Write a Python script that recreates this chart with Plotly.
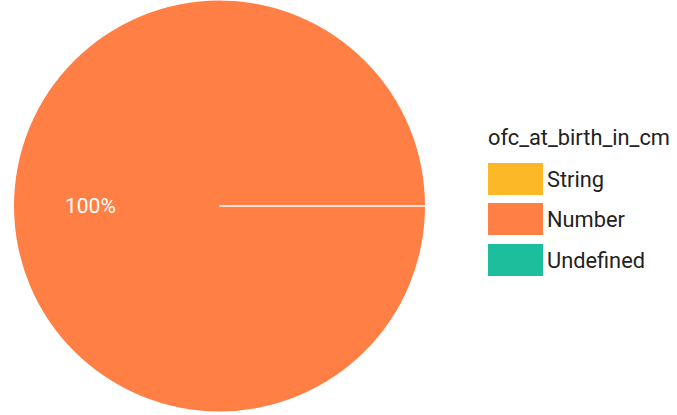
import plotly.graph_objects as go

legend_title = "ofc_at_birth_in_cm"
categories = ["String", "Number", "Undefined"]
values = [0, 100, 0]
colors = ["#FDB827", "#FF7F45", "#1CBE9B"]

W, H = 677, 415
cx, cy, r = 219.5, 206.0, 205.5  # pixel centre/radius of the pie

dom_x = [(cx - r) / W, (cx + r) / W]
dom_y = [(H - cy - r) / H, (H - cy + r) / H]

fig = go.Figure(go.Pie(
    labels=categories, values=values,
    marker=dict(colors=colors, line=dict(color="white", width=0)),
    textinfo="none", sort=False, direction="clockwise",
    domain=dict(x=dom_x, y=dom_y), showlegend=False, hoverinfo="label+percent",
))

# radial seam line of the full slice
pcx = (dom_x[0] + dom_x[1]) / 2
pcy = (dom_y[0] + dom_y[1]) / 2
fig.add_shape(type="line", xref="paper", yref="paper",
              x0=pcx, y0=pcy, x1=dom_x[1], y1=pcy,
              line=dict(color="white", width=1.5))

total = sum(values)
for cat, v in zip(categories, values):
    if v > 0 and v == total:
        fig.add_annotation(xref="paper", yref="paper", x=90 / W, y=pcy,
                           xanchor="center", yanchor="middle",
                           text=f"{round(100 * v / total)}%", showarrow=False,
                           font=dict(family="Roboto", size=21, color="white"))

# custom legend
fig.add_annotation(xref="paper", yref="paper", x=486 / W, y=(H - 137) / H,
                   xanchor="left", yanchor="middle", text=legend_title,
                   showarrow=False, font=dict(family="Roboto", size=21.8, color="#222222"))
tops = [163, 203, 244]
for cat, col, t in zip(categories, colors, tops):
    fig.add_shape(type="rect", xref="paper", yref="paper",
                  x0=488 / W, x1=543 / W, y0=(H - t - 32) / H, y1=(H - t) / H,
                  fillcolor=col, line=dict(width=0))
    fig.add_annotation(xref="paper", yref="paper", x=545 / W, y=(H - t - 16) / H,
                       xanchor="left", yanchor="middle", text=cat, showarrow=False,
                       font=dict(family="Roboto", size=21.8, color="#222222"))

fig.update_layout(width=W, height=H, margin=dict(l=0, r=0, t=0, b=0),
                  paper_bgcolor="white", plot_bgcolor="white")
fig.write_html("out.html", config={"displayModeBar": False},
               post_script="document.body.style.margin='0';")
